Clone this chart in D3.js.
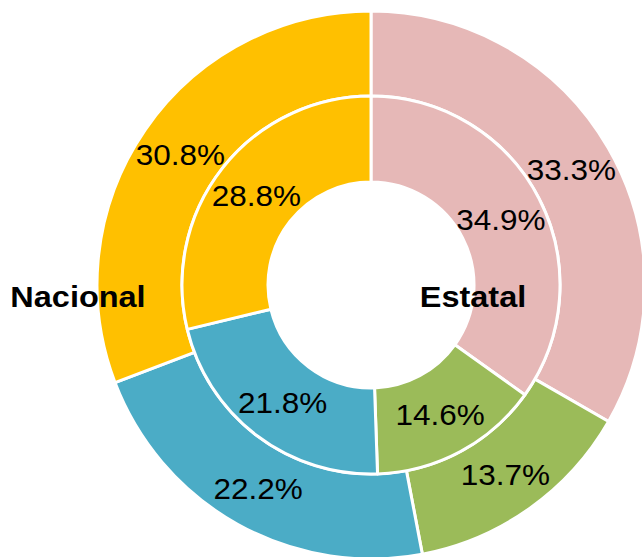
<!DOCTYPE html>
<html>
<head>
<meta charset="utf-8">
<script src="https://cdn.jsdelivr.net/npm/d3@7"></script>
<style>
  body { margin: 0; background: #fff; }
  text { font-family: "Liberation Sans", Arial, sans-serif; }
</style>
</head>
<body>
<svg id="chart" width="642" height="557"></svg>
<script>
/* Two rings sharing one centre: the inner ring and the outer ring use
   the same four categories, drawn clockwise from 12 o'clock. */

const categories = ['A', 'B', 'C', 'D'];
const colors = ['#E6B8B7', '#9BBB59', '#4BACC6', '#FFC000'];
const innerValues = [34.9, 14.6, 21.8, 28.8];
const outerValues = [33.3, 13.7, 22.2, 30.8];
const seriesLabels = ['Nacional', 'Estatal'];

const cx = 371, cy = 285;
const rHole = 103, rMid = 189, rOuter = 274;

const svg = d3.select('#chart');
const g = svg.append('g').attr('transform', `translate(${cx},${cy})`);

const pie = d3.pie().sort(null).value(d => d.value);
const color = d3.scaleOrdinal().domain(categories).range(colors);

function drawRing(values, r0, r1, cls) {
    let data = pie(values.map((v, i) => ({cat: categories[i], value: v})));
    let arc = d3.arc().innerRadius(r0).outerRadius(r1);
    let ring = g.append('g').attr('class', cls);
    ring.selectAll('path')
        .data(data)
        .join('path')
        .attr('d', arc)
        .attr('fill', d => color(d.data.cat))
        .attr('stroke', '#fff')
        .attr('stroke-width', 3)
        .attr('stroke-linejoin', 'round');
    // slightly narrow glyphs like the reference: scale x a bit less than y
    ring.selectAll('text')
        .data(data)
        .join('text')
        .attr('transform', d => `translate(${arc.centroid(d)}) scale(1.05,1)`)
        .attr('text-anchor', 'middle')
        .attr('dy', '0.38em')
        .attr('font-size', 30)
        .attr('fill', '#000')
        .text(d => d.data.value.toFixed(1) + '%');
}

drawRing(outerValues, rMid, rOuter, 'outer');
drawRing(innerValues, rHole, rMid, 'inner');

// series names either side of the hole
svg.append('text')
    .attr('transform', 'translate(78,307) scale(1.12,1)')
    .attr('text-anchor', 'middle')
    .attr('font-size', 29).attr('font-weight', 'bold')
    .text(seriesLabels[0]);
svg.append('text')
    .attr('transform', 'translate(473,307) scale(1.12,1)')
    .attr('text-anchor', 'middle')
    .attr('font-size', 29).attr('font-weight', 'bold')
    .text(seriesLabels[1]);
</script>
</body>
</html>
